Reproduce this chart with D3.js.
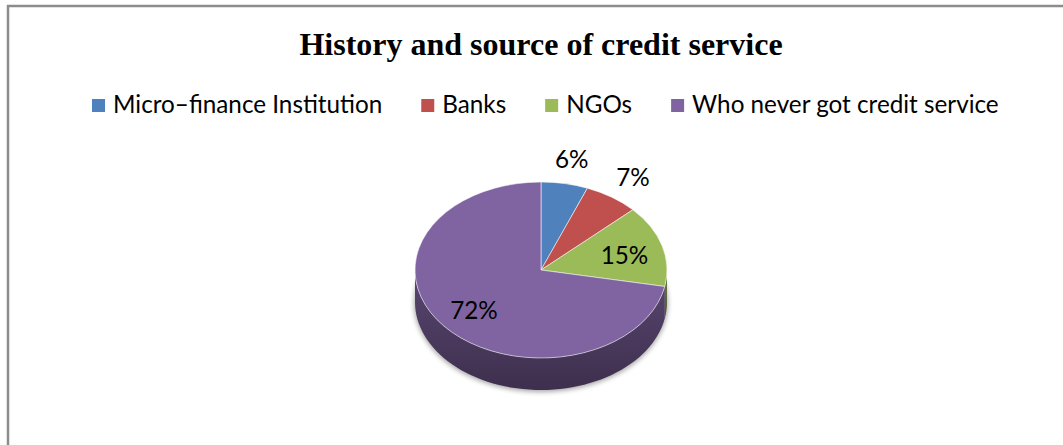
<!DOCTYPE html>
<meta charset="utf-8" />
<script src="https://d3js.org/d3.v7.min.js"></script>

<body style="margin:0;background:#fff">
<svg id="chart" width="1063" height="445" style="display:block"></svg>

<script>
/* ── DATA ── */
const title   = "History and source of credit service";
const sources = ["Micro–finance Institution","Banks","NGOs","Who never got credit service"];
const shares  = [6, 7, 15, 72];
const labels  = ["6%","7%","15%","72%"];
const colours = ["#4F81BD","#C0504D","#9BBB59","#8064A2"];

/* ── CONFIG ── */
const W = 1063, H = 445;
const cx = 541, cy = 270, rx = 126, ry = 88, depth = 32;
const labFont = "Lato, 'Open Sans', sans-serif";

const svg = d3.select("#chart");
const defs = svg.append("defs");

/* frame (top + left rule only, like the cropped original) */
svg.append("line").attr("x1",7).attr("x2",W).attr("y1",6).attr("y2",6)
   .attr("stroke","#8c8c8c").attr("stroke-width",2.5);
svg.append("line").attr("x1",8).attr("x2",8).attr("y1",5).attr("y2",H)
   .attr("stroke","#8c8c8c").attr("stroke-width",2.5);

/* title */
svg.append("text").attr("x",cx).attr("y",55).attr("text-anchor","middle")
   .attr("font-family","'Liberation Serif','Times New Roman',serif")
   .attr("font-weight","bold").attr("font-size",32).attr("fill","#000")
   .text(title);

/* ── LEGEND ── fitted to span x 92 → 999 */
const sq = 13, sqGap = 8, entryGap = 39, legL = 92, legR = 999, legBase = 113;
const leg = svg.append("g");
const legTexts = leg.selectAll("text").data(sources).join("text")
   .attr("font-family",labFont).attr("font-size",26).attr("fill","#000")
   .attr("y",legBase).text(d=>d);
const raw = d3.sum(legTexts.nodes(), n=>n.getComputedTextLength());
const fixed = sources.length*(sq+sqGap) + (sources.length-1)*entryGap;
const legFs = 26*(legR-legL-fixed)/raw;
legTexts.attr("font-size",legFs);
let xCur = legL;
legTexts.each(function(d,i){
  leg.append("rect").attr("x",xCur).attr("y",legBase-14).attr("width",sq).attr("height",sq)
     .attr("fill",colours[i]);
  d3.select(this).attr("x",xCur+sq+sqGap);
  xCur += sq+sqGap+this.getComputedTextLength()+entryGap;
});

/* ── PIE ── */
const data = sources.map((s,i)=>({key:s,value:shares[i],colour:colours[i],label:labels[i]}));
const arcs = d3.pie().value(d=>d.value).sort(null)(data);
const pt = (a,r=1)=>[cx + rx*r*Math.sin(a), cy - ry*r*Math.cos(a)];

/* soft shadow under the disc */
const blur = defs.append("filter").attr("id","blur").attr("x","-20%").attr("y","-20%")
   .attr("width","140%").attr("height","140%");
blur.append("feGaussianBlur").attr("stdDeviation",2.5);
svg.append("ellipse").attr("cx",cx).attr("cy",cy+depth+1).attr("rx",rx+1).attr("ry",ry+1)
   .attr("fill","#000").attr("opacity",0.35).attr("filter","url(#blur)");

/* side walls: only the front half (π/2 → 3π/2) is visible */
arcs.forEach((s,i)=>{
  const g = defs.append("linearGradient").attr("id","side"+i)
     .attr("x1",0).attr("y1",0).attr("x2",0).attr("y2",1);
  const c = d3.color(s.data.colour);
  g.append("stop").attr("offset","0%").attr("stop-color",c.darker(1));
  g.append("stop").attr("offset","100%").attr("stop-color",c.darker(2.1));
});
const line = d3.line();
const side = svg.append("g");
arcs.forEach((s,i)=>{
  const a0 = Math.max(s.startAngle, Math.PI/2), a1 = Math.min(s.endAngle, 3*Math.PI/2);
  if (a0 >= a1) return;
  const steps = d3.range(0, 1.0001, 1/60).map(t=>a0 + (a1-a0)*t);
  const top = steps.map(a=>pt(a));
  const bot = steps.slice().reverse().map(a=>{const p=pt(a); return [p[0],p[1]+depth];});
  side.append("path").attr("d", line(top.concat(bot))+"Z")
      .attr("fill",`url(#side${i})`).attr("stroke","none");
});

/* top face */
const arc = d3.arc().innerRadius(0).outerRadius(rx);
const face = svg.append("g").attr("transform",`translate(${cx},${cy}) scale(1,${ry/rx})`);
face.selectAll("path").data(arcs).join("path")
   .attr("d",arc).attr("fill",d=>d.data.colour)
   .attr("stroke","rgba(255,255,255,0.55)").attr("stroke-width",1)
   .attr("vector-effect","non-scaling-stroke");

/* labels: small slices outside, larger inside */
svg.append("g").selectAll("text").data(arcs).join("text")
   .each(function(d){
     const a = (d.startAngle+d.endAngle)/2;
     const p = pt(a, d.data.value < 10 ? 1.3 : 0.69);
     d3.select(this).attr("x",p[0]).attr("y",p[1]+2);
   })
   .attr("dy","0.35em").attr("text-anchor","middle")
   .attr("font-family",labFont).attr("font-size",legFs).attr("fill","#000")
   .text(d=>d.data.label);
</script>
</body>
